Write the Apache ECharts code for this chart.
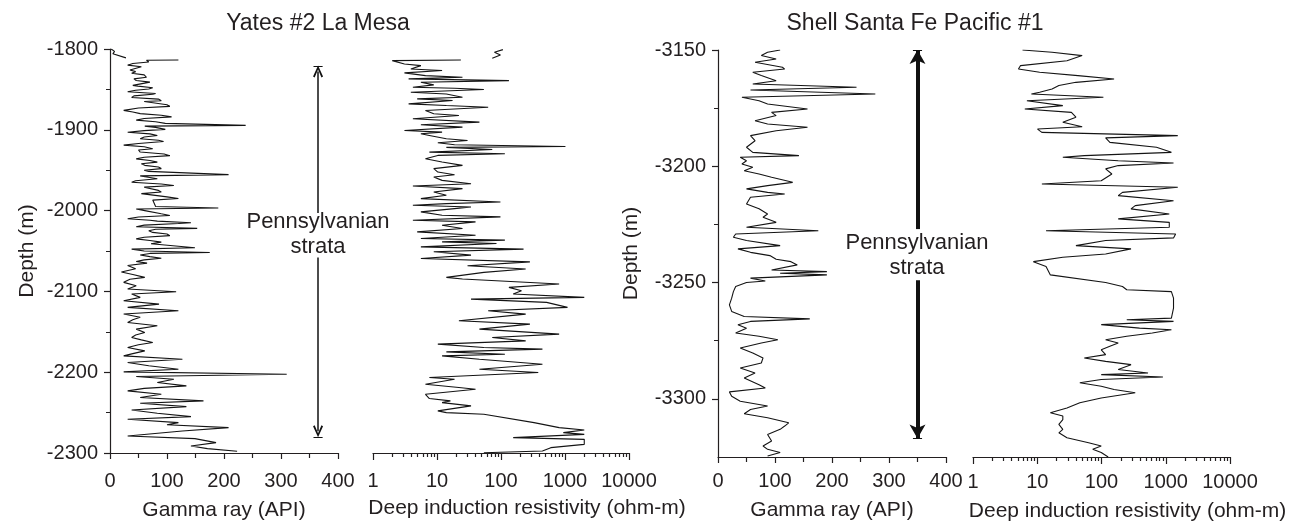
<!DOCTYPE html>
<html>
<head>
<meta charset="utf-8">
<title>Well logs</title>
<script src="https://cdn.jsdelivr.net/npm/echarts@6/dist/echarts.min.js"></script>
<style>
html, body { margin: 0; padding: 0; background: #fff; }
#chart { width: 1306px; height: 527px; }
</style>
</head>
<body>
<div id="chart"></div>
<script>
// log readings, [depth (m), value]
const yatesGammaTop = [[-1800, 2], [-1803, 8], [-1806, 5], [-1811, 28]];
const yatesGamma = [
  [-1813.6,120],[-1814,64],[-1816,68],[-1818,40],[-1820,31],[-1822,55],[-1824,53],[-1826,35],[-1828,45],[-1830,38],
  [-1832,60],[-1835,64],[-1837,42],[-1839,46],[-1841,70],[-1843,72],[-1845,40],[-1846,49],[-1848,75],[-1849.5,68],
  [-1851,45],[-1853,31],[-1855,80],[-1856,75],[-1858,42],[-1860,38],[-1862,85],[-1864,90],[-1865,60],[-1867,57],
  [-1869,100],[-1871,105],[-1873,50],[-1876,24],[-1878,40],[-1880,53],[-1882,90],[-1884,108],[-1886,60],[-1888,46],
  [-1890,80],[-1892,97],[-1894.5,238],[-1895.5,61],[-1897,80],[-1899.5,97],[-1901,60],[-1903,31],[-1905,70],[-1907,83],
  [-1909,60],[-1911,53],[-1913,85],[-1914.5,94],[-1917,50],[-1919,24],[-1921,60],[-1923.5,75],[-1925,50],[-1927.5,53],
  [-1930,95],[-1932,105],[-1934,60],[-1936,46],[-1938,70],[-1940,83],[-1942,55],[-1944,61],[-1946,85],[-1948,90],
  [-1950,60],[-1951.5,68],[-1955.5,208],[-1957,53],[-1959,70],[-1960.5,83],[-1963,45],[-1965,38],[-1967,90],[-1969,112],
  [-1971,60],[-1973,61],[-1975,85],[-1977,90],[-1979,55],[-1981,53],[-1983,100],[-1985,120],[-1987,75],[-1989,75],
  [-1995,80],[-1996.7,190],[-1998,46],[-2000,61],[-2002,60],[-2004,90],[-2006,105],[-2008,50],[-2010,31],[-2012,70],
  [-2013,83],[-2015,142],[-2016,120],[-2018,60],[-2020,46],[-2022,153],[-2023,80],[-2025,68],[-2027,75],[-2029,100],
  [-2031,105],[-2033,60],[-2035,46],[-2037,70],[-2039,90],[-2041,72],[-2043,72],[-2046,149],[-2047.7,38],[-2050,60],
  [-2051.9,175],[-2053,70],[-2055,53],[-2057,70],[-2059,90],[-2061,60],[-2063,46],[-2065,65],[-2068,31],[-2072,45],
  [-2076,20],[-2079,40],[-2082.6,61],[-2085,35],[-2088.8,24],[-2093,46],[-2097,31],[-2100.4,116],[-2103.3,38],[-2107.4,53],
  [-2111.6,24],[-2115.7,86],[-2119.8,31],[-2124,120],[-2128,24],[-2132,53],[-2135,40],[-2138.4,31],[-2142.6,83],[-2146.7,46],
  [-2150.8,61],[-2154,45],[-2157,38],[-2160,55],[-2163.2,75],[-2166,50],[-2169.4,31],[-2173.6,61],[-2177,40],[-2179.8,24],
  [-2183.9,127],[-2188,31],[-2192,68],[-2196.3,120],[-2199.6,24],[-2202.5,310],[-2205.4,46],[-2208.7,112],[-2212.8,83],[-2216.9,134],
  [-2220,60],[-2223.1,31],[-2227.3,90],[-2231.4,53],[-2235.5,164],[-2238.4,53],[-2242.6,134],[-2246.7,38],[-2250.8,83],[-2255,142],
  [-2258.3,31],[-2262.4,120],[-2265,100],[-2268.6,208],[-2272.7,127],[-2278.9,31],[-2282.2,149],[-2287.2,186],[-2291.3,142],[-2294.6,171],
  [-2297.9,223]
];
const yatesResTop = [[-1800.8, 107], [-1804.1, 79], [-1807.4, 98], [-1811.5, 73]];
const yatesRes = [
  [-1813.6,23.6],[-1814.4,2.0],[-1818.5,3.1],[-1820.6,5.6],[-1824.7,3.9],[-1826.7,12],[-1829.6,3.1],[-1832.9,6.6],[-1835,25],[-1837,3.6],
  [-1839.1,133],[-1841.2,5.6],[-1844.4,8.9],[-1847.3,4.2],[-1848.6,18.8],[-1850.2,54],[-1853.5,3.9],[-1855.6,14],[-1859.7,25],[-1861.7,4.9],
  [-1863.8,17.5],[-1867.9,3.6],[-1870,14],[-1872,63],[-1876.1,6.6],[-1880.2,8.9],[-1882.3,22],[-1886.4,4.2],[-1890.5,46],[-1893.8,5.6],
  [-1896.7,25],[-1900.8,3.1],[-1902.9,12],[-1904.9,5.6],[-1907,7.6],[-1911.1,14],[-1913.2,30],[-1916,10.3],[-1918.5,18.8],[-1920.6,1016],
  [-1921.8,14],[-1924.3,73],[-1927.6,7.6],[-1929.6,115],[-1931.7,10.3],[-1935.8,6.6],[-1939.9,12],[-1944,25],[-1948.1,8.9],[-1952.3,10.3],
  [-1955.6,18.8],[-1958.4,8.9],[-1962.6,12],[-1966.7,34],[-1969.5,4.2],[-1972.8,25],[-1977,8.9],[-1981.1,14],[-1985.2,5.6],[-1989.3,98],
  [-1991.4,14],[-1993.4,4.2],[-1995.5,34],[-1997.5,18.8],[-2001.6,5.6],[-2005.8,12],[-2007.8,98],[-2011.9,4.2],[-2014,40],[-2018.1,12],
  [-2022.2,25],[-2026.3,4.9],[-2030.5,40],[-2034.6,5.6],[-2036.6,115],[-2038.7,12],[-2040.7,85],[-2044.9,5.6],[-2047.7,225],[-2051,8.9],
  [-2055.1,34],[-2059.3,5.6],[-2063.4,283],[-2068.2,30],[-2072.3,243],[-2076.4,54],[-2082.6,14],[-2084.7,25],[-2090.9,810],[-2095,133],
  [-2099.2,209],[-2103.3,155],[-2107.4,2000],[-2109.5,34],[-2113.6,516],[-2119.8,1094],[-2124,63],[-2128.1,243],[-2136.4,22],[-2140.5,283],
  [-2146.7,46],[-2152.9,810],[-2157,73],[-2161.2,243],[-2165.3,10.3],[-2169.4,54],[-2171.5,444],[-2174.8,14],[-2177.7,115],[-2179.8,12],
  [-2183.9,46],[-2190.1,444],[-2196.3,46],[-2200.4,382],[-2202.5,98],[-2206.6,7.6],[-2208.7,18.8],[-2214.9,6.6],[-2219,22],[-2221.1,40],
  [-2227.3,6.6],[-2232.6,7.6],[-2235.5,16.2],[-2237.6,12],[-2241.7,34],[-2247.9,10.3],[-2250,14],[-2252.1,54],[-2262.4,328],[-2268.6,810],
  [-2271.5,2000],[-2274.8,941],[-2276.9,2000],[-2281,155],[-2283.1,2000],[-2289.3,2000],[-2293.4,600],[-2297.5,444],[-2299.6,54]
];
const shellGamma = [
  [-3150,109],[-3151,87],[-3152.4,76],[-3153.9,102],[-3155.3,65],[-3157.4,113],[-3158.2,117],[-3159.6,61],[-3161,76],[-3163.2,102],
  [-3164.6,61],[-3166,243],[-3167.2,57],[-3168.9,276],[-3170.3,42],[-3171.8,72],[-3173.2,87],[-3175.4,157],[-3176.8,94],[-3178.2,102],
  [-3180.4,65],[-3181.8,87],[-3183.2,157],[-3184.7,102],[-3186.8,57],[-3189,65],[-3191.8,50],[-3194,61],[-3195.4,142],[-3196.1,39],
  [-3197.6,50],[-3199,42],[-3200.4,61],[-3201.9,46],[-3203.3,72],[-3204.7,94],[-3206.9,131],[-3208.3,87],[-3209.7,50],[-3211.2,87],
  [-3211.9,117],[-3213.3,57],[-3216.2,50],[-3218.3,72],[-3220.5,87],[-3221.9,79],[-3224.1,102],[-3226.2,50],[-3227.7,176],[-3229.1,31],
  [-3230.5,27],[-3231.9,50],[-3234.1,109],[-3235.5,35],[-3237,57],[-3238.4,91],[-3240,102],[-3241,128],[-3242.4,139],[-3244.6,94],
  [-3245.3,191],[-3246,109],[-3246.7,191],[-3248.1,57],[-3249.3,83],[-3250,50],[-3251.7,31],[-3253.9,27],[-3256.7,24],[-3259.6,20],
  [-3262.4,24],[-3264.6,46],[-3265.6,161],[-3266.7,57],[-3268.1,35],[-3269.6,50],[-3271.7,31],[-3273.1,72],[-3274.6,105],[-3276,76],
  [-3278.1,39],[-3280.3,61],[-3282.4,79],[-3284.6,76],[-3286.7,39],[-3288.9,65],[-3291,46],[-3293.9,72],[-3295.3,83],[-3297,20],
  [-3298.9,24],[-3301,39],[-3303.1,87],[-3304.6,57],[-3306.4,46],[-3308.1,87],[-3310.3,124],[-3311.7,117],[-3313.1,109],[-3315.3,87],
  [-3318.1,94],[-3320.3,79],[-3321.7,87],[-3323.1,109],[-3324.6,87]
];
const shellRes = [
  [-3150,5.9],[-3151,17],[-3152.4,50],[-3154.6,29],[-3156.7,5.5],[-3158.2,5.1],[-3159.6,10.9],[-3161,43],[-3162.5,157],[-3163.9,40],
  [-3165.3,21.7],[-3166.8,17],[-3168.2,10.9],[-3168.9,8.1],[-3170.3,107],[-3171.8,6.9],[-3173.9,25],[-3175.4,6.4],[-3176.8,34],[-3178.9,40],
  [-3181.1,25],[-3183,50],[-3184,10.1],[-3185.4,11.8],[-3186.8,1538],[-3187.8,116],[-3189.7,135],[-3191.8,718],[-3194,1224],[-3195.4,54],
  [-3196.1,25],[-3197.6,182],[-3198.6,1321],[-3199.7,182],[-3201.1,116],[-3203.3,145],[-3206.2,99],[-3207.6,11.8],[-3209,1538],[-3211.2,212],
  [-3212.6,182],[-3214.8,1321],[-3216.9,335],[-3218.3,288],[-3220.5,1135],[-3222.6,182],[-3224.1,1135],[-3226.2,1135],[-3227.7,13.7],[-3229.1,1425],
  [-3230.8,1321],[-3231.9,116],[-3234.1,40],[-3235.5,288],[-3237.7,116],[-3239.1,25],[-3241,8.7],[-3243.1,13.7],[-3246.7,16],[-3250,116],
  [-3251.7,212],[-3253.1,247],[-3253.9,1224],[-3256.7,1321],[-3261,1321],[-3265.3,1224],[-3266,247],[-3266.7,1321],[-3268.1,99],[-3269.6,391],
  [-3270.3,1224],[-3271.7,617],[-3273.1,247],[-3274.6,116],[-3276,182],[-3277.4,135],[-3278.9,99],[-3281,116],[-3282.4,54],[-3283.9,116],
  [-3285.3,288],[-3287.4,182],[-3288.9,530],[-3289.6,99],[-3290.6,903],[-3291.7,99],[-3293.1,46],[-3294.6,99],[-3296,157],[-3297.4,335],
  [-3299.6,99],[-3301.7,46],[-3303.9,29],[-3306,16],[-3307.4,25],[-3308.9,25],[-3311,21.7],[-3313.1,25],[-3314.6,21.7],[-3316.7,29],
  [-3318.9,63],[-3320.3,99],[-3321.7,73],[-3323.1,99],[-3325,127]
];

// tick values
const resMajorTicks = [1, 10, 100, 1000, 10000];
const resMinorTicks = [2, 3, 4, 5, 6, 7, 8, 9, 20, 30, 40, 50, 60, 70, 80, 90,
  200, 300, 400, 500, 600, 700, 800, 900, 2000, 3000, 4000, 5000, 6000, 7000, 8000, 9000];
const shellDepthTicks = [-3300, -3250, -3200, -3150];
const shellDepthMinor = [-3275, -3225, -3175];

// arrows: gamma position, upper end, gap start, gap end, lower end, tip depths
const yatesArrow = [365, -1828, -2003, -2058, -2273];
const yatesTips = [-1821, -2280];
const shellArrow = [350, -3150, -3227, -3249, -3317];
const shellTips = [-3150, -3317];

const FONT = '"Liberation Sans", Arial, Helvetica, sans-serif';
const INK = '#231f20';
const fmt = v => String(v);
const chevron = 'path://M0,10 L5,0 L10,10 L8.4,11 L5,3.6 L1.6,11 Z';

function gammaAxis(grid, margin, gap) {
  return {
    gridIndex: grid, type: 'value', position: 'bottom', min: 0, max: 400, interval: 100,
    axisLine: { lineStyle: { color: INK, width: 1.2 } },
    axisTick: { length: 6, lineStyle: { color: INK, width: 1.2 } },
    minorTick: { show: true, splitNumber: 2, length: 5, lineStyle: { color: INK, width: 1.2 } },
    splitLine: { show: false },
    axisLabel: { color: INK, fontFamily: FONT, fontSize: 20, margin: margin, formatter: fmt },
    name: 'Gamma ray (API)', nameLocation: 'middle', nameGap: gap,
    nameTextStyle: { color: INK, fontFamily: FONT, fontSize: 21 }
  };
}
function resMajorAxis(grid, margin, gap) {
  return {
    gridIndex: grid, type: 'log', position: 'bottom', min: 1, max: 10000, logBase: 10,
    axisLine: { lineStyle: { color: INK, width: 1.2 } },
    axisTick: { length: 7, customValues: resMajorTicks, lineStyle: { color: INK, width: 1.2 } },
    splitLine: { show: false },
    axisLabel: { color: INK, fontFamily: FONT, fontSize: 20, margin: margin, customValues: resMajorTicks, formatter: fmt },
    name: 'Deep induction resistivity (ohm-m)', nameLocation: 'middle', nameGap: gap,
    nameTextStyle: { color: INK, fontFamily: FONT, fontSize: 21, padding: [0, 0, 0, 52] }
  };
}
function resMinorAxis(grid) {
  return {
    gridIndex: grid, type: 'log', position: 'bottom', min: 1, max: 10000, logBase: 10,
    axisLine: { show: false },
    axisTick: { length: 4, customValues: resMinorTicks, lineStyle: { color: INK, width: 1.2 } },
    splitLine: { show: false },
    axisLabel: { show: false }
  };
}
function logLine(data, xi, yi) {
  return {
    type: 'line', xAxisIndex: xi, yAxisIndex: yi, showSymbol: false, symbol: 'none',
    animation: false, silent: true,
    lineStyle: { color: '#141414', width: 1.1 },
    data: data.map(d => [d[1], d[0]])
  };
}
function arrowSeries(xi, yi, a, tips, width, head, size) {
  const x = a[0];
  return {
    type: 'line', xAxisIndex: xi, yAxisIndex: yi, data: [], animation: false,
    markLine: {
      silent: true, animation: false, label: { show: false },
      symbol: ['none', head], symbolSize: size,
      lineStyle: { color: '#111', width: width, type: 'solid' },
      data: [
        [{ coord: [x, a[2]] }, { coord: [x, a[1]] }],
        [{ coord: [x, a[3]] }, { coord: [x, a[4]] }],
        [{ coord: [x - 8, tips[0]], symbol: 'none', lineStyle: { width: 1 } }, { coord: [x + 8, tips[0]], symbol: 'none' }],
        [{ coord: [x - 8, tips[1]], symbol: 'none', lineStyle: { width: 1 } }, { coord: [x + 8, tips[1]], symbol: 'none' }]
      ]
    }
  };
}
function label(text, x, y, size) {
  return { type: 'text', x: x, y: y, style: { text: text, fill: INK, font: size + 'px ' + FONT, textAlign: 'center', textVerticalAlign: 'middle' } };
}

const chart = echarts.init(document.getElementById('chart'), null, { renderer: 'canvas' });
chart.setOption({
  backgroundColor: '#fff',
  animation: false,
  textStyle: { fontFamily: FONT },
  grid: [
    { left: 110, top: 49, width: 228, height: 404 },
    { left: 373, top: 49, width: 256, height: 404 },
    { left: 718, top: 50, width: 228, height: 407 },
    { left: 973, top: 50, width: 257, height: 407 }
  ],
  xAxis: [
    gammaAxis(0, 18, 47), resMajorAxis(1, 18, 45), resMinorAxis(1),
    gammaAxis(2, 14, 43), resMajorAxis(3, 15, 44), resMinorAxis(3)
  ],
  yAxis: [
    {
      gridIndex: 0, type: 'value', position: 'left', min: -2300, max: -1800, interval: 100,
      axisLine: { lineStyle: { color: INK, width: 1.2 } },
      axisTick: { length: 6, lineStyle: { color: INK, width: 1.2 } },
      minorTick: { show: true, splitNumber: 2, length: 4, lineStyle: { color: INK, width: 1 } },
      splitLine: { show: false },
      axisLabel: { color: INK, fontFamily: FONT, fontSize: 20, margin: 12, formatter: fmt },
      name: 'Depth (m)', nameLocation: 'middle', nameGap: 72,
      nameTextStyle: { color: INK, fontFamily: FONT, fontSize: 21 }
    },
    { gridIndex: 1, type: 'value', min: -2300, max: -1800, show: false },
    {
      gridIndex: 2, type: 'value', position: 'left', min: -3325, max: -3150,
      axisLine: { lineStyle: { color: INK, width: 1.2 } },
      axisTick: { length: 6, customValues: shellDepthTicks, lineStyle: { color: INK, width: 1.2 } },
      splitLine: { show: false },
      axisLabel: { color: INK, fontFamily: FONT, fontSize: 20, margin: 12, customValues: shellDepthTicks, formatter: fmt },
      name: 'Depth (m)', nameLocation: 'middle', nameGap: 76,
      nameTextStyle: { color: INK, fontFamily: FONT, fontSize: 21 }
    },
    {
      gridIndex: 2, type: 'value', position: 'left', min: -3325, max: -3150,
      axisLine: { show: false },
      axisTick: { length: 4, customValues: shellDepthMinor, lineStyle: { color: INK, width: 1 } },
      splitLine: { show: false },
      axisLabel: { show: false }
    },
    { gridIndex: 3, type: 'value', min: -3325, max: -3150, show: false }
  ],
  graphic: [
    label('Yates #2 La Mesa', 318, 24, 23),
    label('Shell Santa Fe Pacific #1', 915, 24, 23),
    label('Pennsylvanian', 318, 222, 22),
    label('strata', 318, 247, 22),
    label('Pennsylvanian', 917, 243, 22),
    label('strata', 917, 268, 22)
  ],
  series: [
    logLine(yatesGammaTop, 0, 0),
    logLine(yatesGamma, 0, 0),
    logLine(yatesResTop, 1, 1),
    logLine(yatesRes, 1, 1),
    logLine(shellGamma, 3, 2),
    logLine(shellRes, 4, 4),
    arrowSeries(0, 0, yatesArrow, yatesTips, 1.5, chevron, [10, 12]),
    arrowSeries(3, 2, shellArrow, shellTips, 4, 'arrow', [12, 14])
  ]
});
</script>
</body>
</html>
